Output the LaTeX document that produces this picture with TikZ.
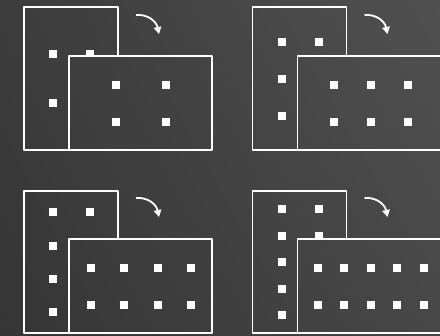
\documentclass[tikz,border=0pt]{standalone}
\usetikzlibrary{arrows.meta,shadings}
\definecolor{bgtl}{HTML}{3C3C3C}
\definecolor{bgtr}{HTML}{505050}
\definecolor{bgbl}{HTML}{353535}
\definecolor{bgbr}{HTML}{474747}
\tikzset{
  frame/.style={draw=white, line width=1.8pt, line join=round},
  dot/.style={fill=white},
  turn/.style={draw=white, line width=1.8pt, -{Triangle[length=7pt,width=7.5pt]}},
}
\begin{document}
\begin{tikzpicture}[x=1pt, y=-1pt]
    \useasboundingbox (0,0) rectangle (440,336);
    \clip (0,0) rectangle (440,336);
    \shade[upper left=bgtl, upper right=bgtr, lower left=bgbl, lower right=bgbr]
        (0,0) rectangle (440,336);

    % two rows
    \begin{scope}[shift={(24,7)}]
        \begin{scope}[even odd rule]
            \clip (-20,-20) rectangle (230,170) (45,49) rectangle (188,143);
            \draw[frame] (0,0) rectangle (94,143);
            \foreach \y in {47,96} {
                \fill[dot] (25,\y-4) rectangle (33,\y+4);
                \fill[dot] (62,\y-4) rectangle (70,\y+4);
            }
        \end{scope}
        \draw[frame] (45,49) rectangle (188,143);
        \foreach \x in {92,142} {
            \fill[dot] (\x-4,74) rectangle (\x+4,82);
            \fill[dot] (\x-4,111) rectangle (\x+4,119);
        }
        \coordinate (from) at (112,8);
        \coordinate (to) at (135,27);
        \draw[turn] (from) .. controls (122,7) and (132,13) .. (to);
    \end{scope}

    % three rows
    \begin{scope}[shift={(252.5,7)}]
        \begin{scope}[even odd rule]
            \clip (-20,-20) rectangle (230,170) (45,49) rectangle (188,143);
            \draw[frame] (0,0) rectangle (94,143);
            \foreach \y in {35,72,109} {
                \fill[dot] (25,\y-4) rectangle (33,\y+4);
                \fill[dot] (62,\y-4) rectangle (70,\y+4);
            }
        \end{scope}
        \draw[frame] (45,49) rectangle (190,143);
        \foreach \x in {81,118,155} {
            \fill[dot] (\x-4,74) rectangle (\x+4,82);
            \fill[dot] (\x-4,111) rectangle (\x+4,119);
        }
        \coordinate (from) at (112,8);
        \coordinate (to) at (135,27);
        \draw[turn] (from) .. controls (122,7) and (132,13) .. (to);
    \end{scope}

    % four rows
    \begin{scope}[shift={(24,191)}]
        \begin{scope}[even odd rule]
            \clip (-20,-20) rectangle (230,170) (45,48) rectangle (188,142);
            \draw[frame] (0,0) rectangle (94,142);
            \foreach \y in {21,55,88,121} {
                \fill[dot] (25,\y-4) rectangle (33,\y+4);
                \fill[dot] (62,\y-4) rectangle (70,\y+4);
            }
        \end{scope}
        \draw[frame] (45,48) rectangle (188,142);
        \foreach \x in {67,100,134,167} {
            \fill[dot] (\x-4,73) rectangle (\x+4,81);
            \fill[dot] (\x-4,110) rectangle (\x+4,118);
        }
        \coordinate (from) at (112,7);
        \coordinate (to) at (135,26);
        \draw[turn] (from) .. controls (122,6) and (132,12) .. (to);
    \end{scope}

    % five rows
    \begin{scope}[shift={(252.5,191)}]
        \begin{scope}[even odd rule]
            \clip (-20,-20) rectangle (230,170) (45,48) rectangle (188,142);
            \draw[frame] (0,0) rectangle (94,142);
            \foreach \y in {18,45,71,98,124} {
                \fill[dot] (25,\y-4) rectangle (33,\y+4);
                \fill[dot] (62,\y-4) rectangle (70,\y+4);
            }
        \end{scope}
        \draw[frame] (45,48) rectangle (190,142);
        \foreach \x in {65,91,118,144,171} {
            \fill[dot] (\x-4,73) rectangle (\x+4,81);
            \fill[dot] (\x-4,110) rectangle (\x+4,118);
        }
        \coordinate (from) at (112,7);
        \coordinate (to) at (135,26);
        \draw[turn] (from) .. controls (122,6) and (132,12) .. (to);
    \end{scope}
\end{tikzpicture}
\end{document}
